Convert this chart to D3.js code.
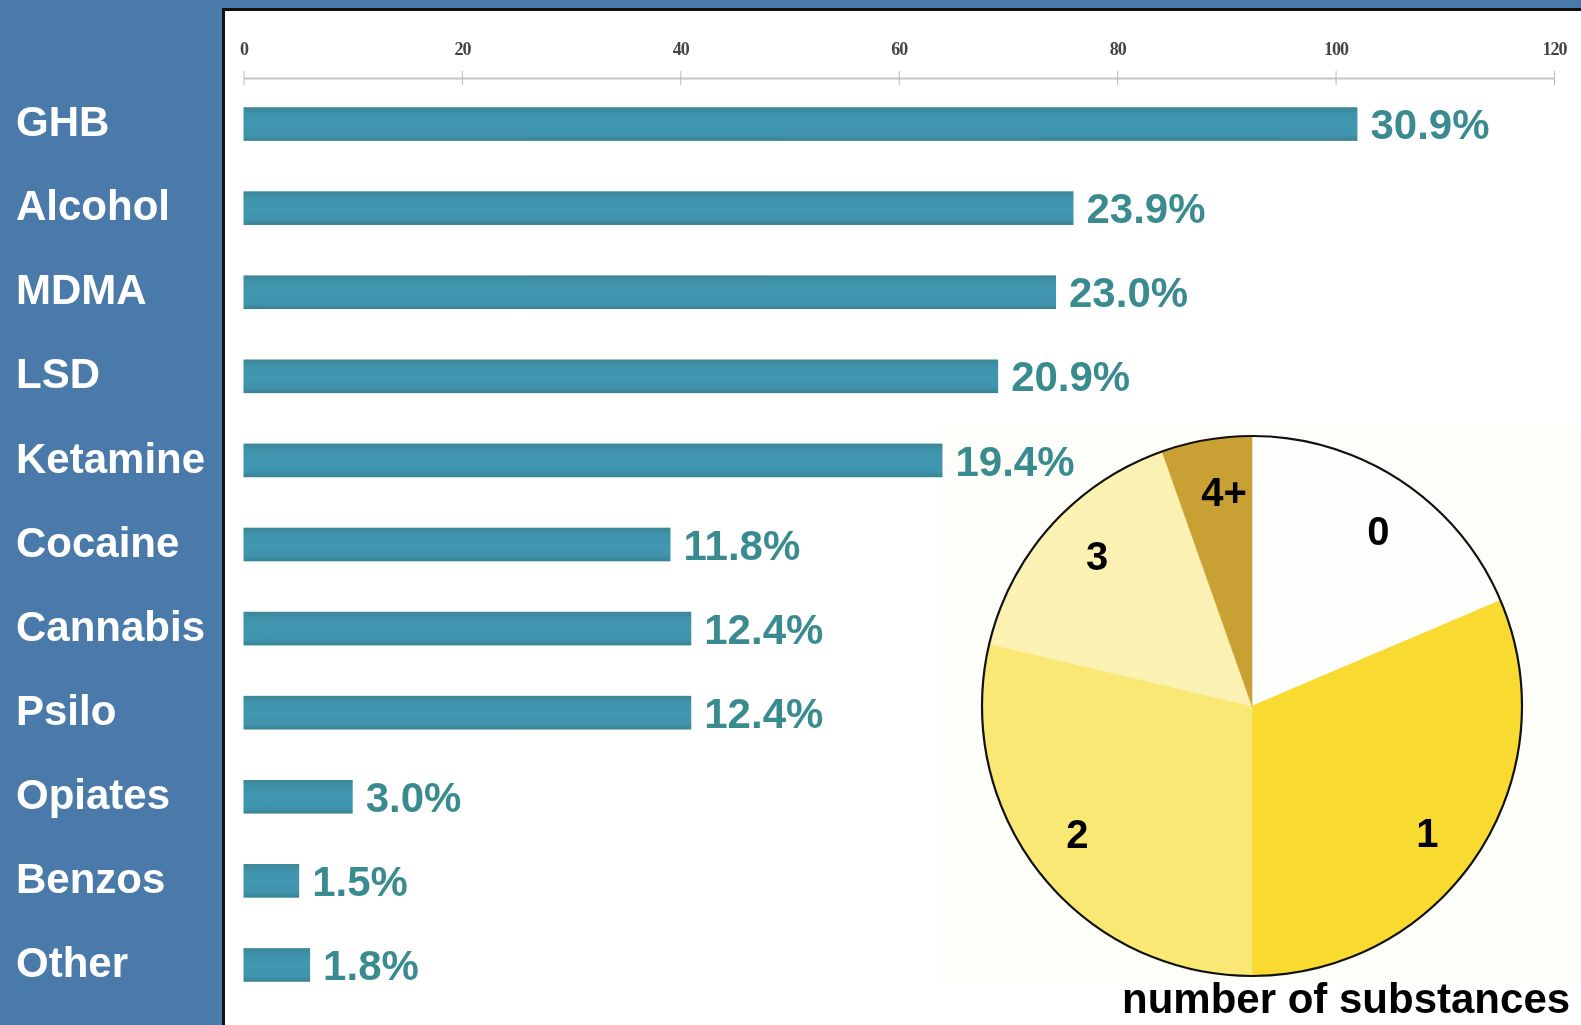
<!DOCTYPE html>
<html>
<head>
<meta charset="utf-8">
<script src="https://cdn.jsdelivr.net/npm/d3@7"></script>
<style>
  html, body { margin: 0; padding: 0; background: #ffffff; }
  svg { display: block; }
</style>
</head>
<body>
<svg id="chart" width="1581" height="1025"></svg>
<script>
// Substances reported, with the count axis along the top
const substances = ["GHB", "Alcohol", "MDMA", "LSD", "Ketamine", "Cocaine", "Cannabis", "Psilo", "Opiates", "Benzos", "Other"];
const counts = [102, 76, 74.4, 69.1, 64, 39.1, 41, 41, 10, 5.1, 6.1];
const percentLabels = ["30.9%", "23.9%", "23.0%", "20.9%", "19.4%", "11.8%", "12.4%", "12.4%", "3.0%", "1.5%", "1.8%"];
const countTicks = [0, 20, 40, 60, 80, 100, 120];

// Share of people by number of substances taken
const substanceGroups = ["0", "1", "2", "3", "4+"];
const groupShares = [18.6, 31.4, 28.7, 15.9, 5.4];
const groupColors = ["#fefefd", "#f8da31", "#f9e873", "#fbf1b2", "#c9a033"];

const svg = d3.select("#chart");
const W = 1581, H = 1025;
const panelW = 222;

// Page frame: blue label panel on the left and a thin blue strip on top
svg.append("rect").attr("x", 0).attr("y", 0).attr("width", W).attr("height", H).attr("fill", "#ffffff");
svg.append("rect").attr("x", 0).attr("y", 0).attr("width", panelW).attr("height", H).attr("fill", "#4a7aaa");
svg.append("rect").attr("x", 0).attr("y", 0).attr("width", W).attr("height", 8).attr("fill", "#4a7aaa");
svg.append("line").attr("x1", panelW + 1.5).attr("x2", panelW + 1.5).attr("y1", 8).attr("y2", H)
  .attr("stroke", "#111").attr("stroke-width", 3);
svg.append("line").attr("x1", panelW).attr("x2", W).attr("y1", 9.5).attr("y2", 9.5)
  .attr("stroke", "#111").attr("stroke-width", 3);

// Faint backdrop behind the pie
svg.append("rect").attr("x", 942).attr("y", 428).attr("width", W - 942).attr("height", 556).attr("fill", "#fdfdf9");

const defs = svg.append("defs");
const soft = defs.append("filter").attr("id", "soft").attr("x", "-5%").attr("y", "-20%").attr("width", "110%").attr("height", "140%");
soft.append("feGaussianBlur").attr("stdDeviation", 0.7);

const grad = defs.append("linearGradient").attr("id", "barFill").attr("x1", 0).attr("x2", 0).attr("y1", 0).attr("y2", 1);
grad.append("stop").attr("offset", "0%").attr("stop-color", "#3a8694");
grad.append("stop").attr("offset", "18%").attr("stop-color", "#3f92aa");
grad.append("stop").attr("offset", "55%").attr("stop-color", "#4298b2");
grad.append("stop").attr("offset", "85%").attr("stop-color", "#3f92aa");
grad.append("stop").attr("offset", "100%").attr("stop-color", "#378290");

// Scales
const x = d3.scaleLinear().domain([0, 120]).range([243.5, 1554]);
const y = d3.scaleBand().domain(substances).range([82, 1007]).paddingInner(0.6).paddingOuter(0.3);

// Top count axis
const axisG = svg.append("g").attr("transform", "translate(0,78)").attr("filter", "url(#soft)");
axisG.call(d3.axisTop(x).tickValues(countTicks).tickSize(7).tickPadding(16).tickSizeOuter(0));
axisG.select(".domain").attr("stroke", "#c6c6c6").attr("stroke-width", 2);
axisG.selectAll(".tick line").attr("stroke", "#bbbbbb").attr("y2", 7).attr("y1", -7);
axisG.selectAll(".tick text")
  .attr("fill", "#444")
  .style("font-family", "'Liberation Serif', 'DejaVu Serif', serif")
  .style("font-weight", "bold")
  .style("font-size", "18px")
  .style("letter-spacing", "-1px");

// Baseline running down from zero
svg.append("line").attr("x1", x(0)).attr("x2", x(0)).attr("y1", 78).attr("y2", 1003)
  .attr("stroke", "#e2d6da").attr("stroke-width", 2).attr("filter", "url(#soft)");

// Bars
svg.append("g").attr("filter", "url(#soft)")
  .selectAll("rect").data(substances).join("rect")
  .attr("x", x(0))
  .attr("y", d => y(d))
  .attr("width", (d, i) => x(counts[i]) - x(0))
  .attr("height", y.bandwidth())
  .attr("fill", "url(#barFill)");

// Percent labels at bar ends
svg.append("g").selectAll("text").data(substances).join("text")
  .attr("x", (d, i) => x(counts[i]) + 13)
  .attr("y", d => y(d) + y.bandwidth() / 2)
  .attr("dy", "0.36em")
  .attr("fill", "#3a8b90")
  .style("font-family", "'Liberation Sans', Arial, Helvetica, sans-serif")
  .style("font-weight", "bold")
  .style("font-size", "42px")
  .text((d, i) => percentLabels[i]);

// Category names in the blue panel
svg.append("g").selectAll("text").data(substances).join("text")
  .attr("x", 16)
  .attr("y", d => y(d) + y.bandwidth() / 2 - 3)
  .attr("dy", "0.36em")
  .attr("fill", "#ffffff")
  .style("font-family", "'Liberation Sans', Arial, Helvetica, sans-serif")
  .style("font-weight", "bold")
  .style("font-size", "42px")
  .text(d => d);

// Pie of number of substances
const cx = 1252, cy = 706, R = 270;
const pie = d3.pie().sort(null).value(d => d)(groupShares);
const arc = d3.arc().innerRadius(0).outerRadius(R);
const labelR = R * 0.8;
const pieG = svg.append("g").attr("transform", `translate(${cx},${cy})`);
pieG.selectAll("path").data(pie).join("path")
  .attr("d", arc)
  .attr("fill", (d, i) => groupColors[i])
  .attr("stroke", (d, i) => groupColors[i])
  .attr("stroke-width", 0.6);
pieG.append("circle").attr("r", R).attr("fill", "none").attr("stroke", "#111").attr("stroke-width", 2.2);
pieG.selectAll("text").data(pie).join("text")
  .attr("transform", d => {
    const mid = (d.startAngle + d.endAngle) / 2 + 0.04;
    return `translate(${Math.sin(mid) * labelR},${-Math.cos(mid) * labelR})`;
  })
  .attr("text-anchor", "middle")
  .attr("dy", "0.36em")
  .attr("fill", "#000")
  .style("font-family", "'Liberation Sans', Arial, Helvetica, sans-serif")
  .style("font-weight", "bold")
  .style("font-size", "40px")
  .text((d, i) => substanceGroups[i]);

svg.append("text")
  .attr("x", 1122).attr("y", 1013)
  .attr("fill", "#000")
  .style("font-family", "'Liberation Sans', Arial, Helvetica, sans-serif")
  .style("font-weight", "bold")
  .style("font-size", "42px")
  .text("number of substances");
</script>
</body>
</html>
